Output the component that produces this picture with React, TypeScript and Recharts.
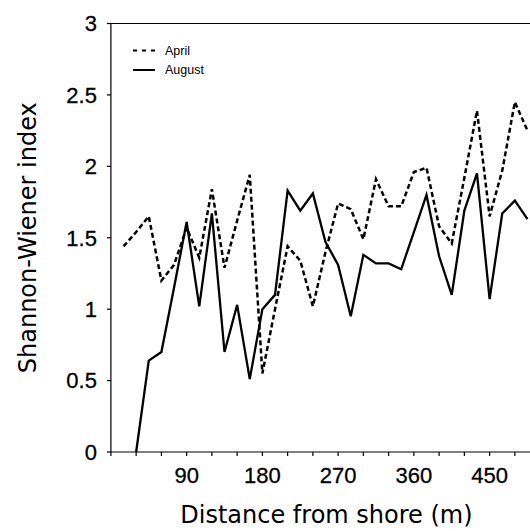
import React from "react";
import { LineChart, Line, XAxis, YAxis, ReferenceLine, Legend, Label } from "recharts";

const distances = [0, 15, 30, 45, 60, 75, 90, 105, 120, 135, 150, 165, 180, 195, 210, 225, 240, 255, 270, 285, 300, 315, 330, 345, 360, 375, 390, 405, 420, 435, 450, 465, 480, 495];
const aprilIndex = [null, 1.44, 1.54, 1.65, 1.2, 1.31, 1.57, 1.36, 1.84, 1.29, 1.62, 1.94, 0.55, 1.0, 1.44, 1.34, 1.02, 1.4, 1.74, 1.7, 1.49, 1.91, 1.72, 1.72, 1.96, 1.99, 1.58, 1.46, 1.92, 2.39, 1.65, 1.97, 2.45, 2.25];
const augustIndex = [null, null, 0, 0.64, 0.7, 1.15, 1.61, 1.02, 1.67, 0.7, 1.03, 0.51, 1.0, 1.1, 1.83, 1.69, 1.81, 1.47, 1.31, 0.95, 1.38, 1.32, 1.32, 1.28, 1.54, 1.8, 1.37, 1.1, 1.69, 1.95, 1.07, 1.67, 1.76, 1.63];
const xTicks = [0, 30, 60, 90, 120, 150, 180, 210, 240, 270, 300, 330, 360, 390, 420, 450, 480];
const xTickLabels = [90, 180, 270, 360, 450];
const yTicks = [0, 0.5, 1, 1.5, 2, 2.5, 3];
const seriesNames = { april: "April", august: "August" };

const data = distances.map((d, i) => ({ distance: d, april: aprilIndex[i], august: augustIndex[i] }));

const tickFont = { fontFamily: "'Liberation Sans', Arial, sans-serif", fontSize: 22, fill: "#000", stroke: "#000", strokeWidth: 0.3 };
const titleFont = { fontFamily: "'DejaVu Sans', sans-serif", fontSize: 24, fill: "#000" };

const LegendContent = (props: any) => {
  const payload = props.payload || [];
  return (
    <svg width={110} height={45} style={{ display: "block" }}>
      {payload.map((p: any, i: number) => (
        <g key={i}>
          <line x1={0} x2={22} y1={10.5 + i * 19.5} y2={10.5 + i * 19.5} stroke="#000" strokeWidth={2} strokeDasharray={p.payload?.strokeDasharray ? "4 5" : undefined} />
          <text x={32} y={10.5 + i * 19.5} dy="0.35em" fontFamily="'Liberation Sans', Arial, sans-serif" fontSize={12.5} fill="#000">
            {p.value}
          </text>
        </g>
      ))}
    </svg>
  );
};

export default function App() {
  return (
    <div>
      <style>{`body{margin:0;background:#fff}`}</style>
      <LineChart width={530} height={531} data={data} margin={{ top: 23.5, right: 0, bottom: 0, left: 0 }}>
        <XAxis
          dataKey="distance"
          type="number"
          domain={[0, 498]}
          ticks={xTicks}
          interval={0}
          height={79}
          tickSize={4}
          tickMargin={11}
          tick={tickFont}
          stroke="#000"
          strokeWidth={1.2}
          tickFormatter={(v: number) => (xTickLabels.includes(v) ? String(v) : "")}
        >
          <Label value="Distance from shore (m)" position="insideBottom" offset={8} dx={6} style={titleFont} />
        </XAxis>
        <YAxis
          type="number"
          domain={[0, 3]}
          ticks={yTicks}
          interval={0}
          width={110.9}
          tickSize={4}
          tickMargin={10}
          tick={tickFont}
          stroke="#000"
          strokeWidth={1.2}
        >
          <Label value="Shannon-Wiener index" angle={-90} position="insideLeft" offset={27} style={{ ...titleFont, textAnchor: "middle" }} />
        </YAxis>
        <ReferenceLine y={3} stroke="#000" strokeWidth={1.2} />
        <Legend
          layout="horizontal"
          verticalAlign="middle"
          align="center"
          content={<LegendContent />}
          wrapperStyle={{ position: "absolute", top: 40, left: 133, width: 110, height: 45 }}
        />
        <Line
          type="linear"
          dataKey="april"
          name={seriesNames.april}
          stroke="#000"
          strokeWidth={2.5}
          strokeDasharray="5 3"
          dot={false}
          activeDot={false}
          isAnimationActive={false}
        />
        <Line
          type="linear"
          dataKey="august"
          name={seriesNames.august}
          stroke="#000"
          strokeWidth={2.3}
          dot={false}
          activeDot={false}
          isAnimationActive={false}
        />
      </LineChart>
    </div>
  );
}
